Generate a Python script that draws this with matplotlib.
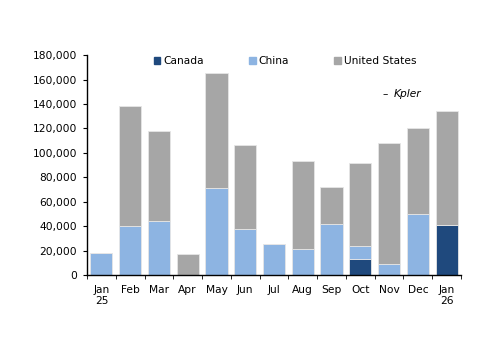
import numpy as np
import matplotlib.pyplot as plt
from matplotlib.patches import Patch

# data
months = ["Jan\n25", "Feb", "Mar", "Apr", "May", "Jun", "Jul", "Aug",
          "Sep", "Oct", "Nov", "Dec", "Jan\n26"]
canada = [0, 0, 0, 0, 0, 0, 0, 0, 0, 13000, 0, 0, 41000]
china = [18000, 40000, 44000, 0, 71000, 38000, 25000, 21000, 42000, 11000, 9000, 50000, 0]
usa = [0, 98000, 74000, 17000, 94000, 68000, 0, 72000, 30000, 68000, 99000, 70000, 93000]

c_canada = "#1F497D"
c_china = "#8DB4E2"
c_usa = "#A6A6A6"
fs = 7.7

plt.rcParams['font.family'] = ['DejaVu Sans']
fig = plt.figure(figsize=(5, 3.53), dpi=100)
ax = fig.add_axes([0.174, 0.221, 0.748, 0.623])

x = np.arange(len(months))
w = 0.77
ca = np.array(canada)
ch = np.array(china)
us = np.array(usa)
ax.bar(x, ca, w, color=c_canada, edgecolor="#e6e6e6", linewidth=0.6)
ax.bar(x, ch, w, bottom=ca, color=c_china, edgecolor="#e6e6e6", linewidth=0.6)
ax.bar(x, us, w, bottom=ca + ch, color=c_usa, edgecolor="#e6e6e6", linewidth=0.6)

ax.set_xlim(-0.5, len(months) - 0.5)
ax.set_ylim(0, 180000)
ax.set_yticks(np.arange(0, 180001, 20000))
ax.set_yticklabels([f"{v:,}" for v in range(0, 180001, 20000)], fontsize=fs)

ax.set_xticks(x)
ax.set_xticklabels(months, fontsize=fs, linespacing=1.1)
ax.tick_params(axis='x', length=0, pad=7)
ax.set_xticks(np.arange(-0.5, len(months), 1), minor=True)
ax.tick_params(axis='x', which='minor', length=3, direction='out')
ax.tick_params(axis='y', length=3, direction='out', pad=4)

for s in ["top", "right"]:
    ax.spines[s].set_visible(False)
for s in ["left", "bottom"]:
    ax.spines[s].set_linewidth(1.0)

handles = [Patch(color=c_canada), Patch(color=c_china), Patch(color=c_usa)]
fig.legend(handles, ["Canada", "China", "United States"], ncol=3, frameon=False,
           loc="center left", bbox_to_anchor=(154 / 500, 1 - 61 / 353),
           borderpad=0, borderaxespad=0, fontsize=fs,
           handlelength=0.6, handleheight=0.6, handletextpad=0.3, columnspacing=4.2)

fig.text(382 / 500, 1 - 94 / 353, "–", fontsize=fs, va="center")
fig.text(394 / 500, 1 - 94 / 353, "Kpler", fontsize=fs, style="italic", va="center")

fig.savefig("out.png", dpi=100)
